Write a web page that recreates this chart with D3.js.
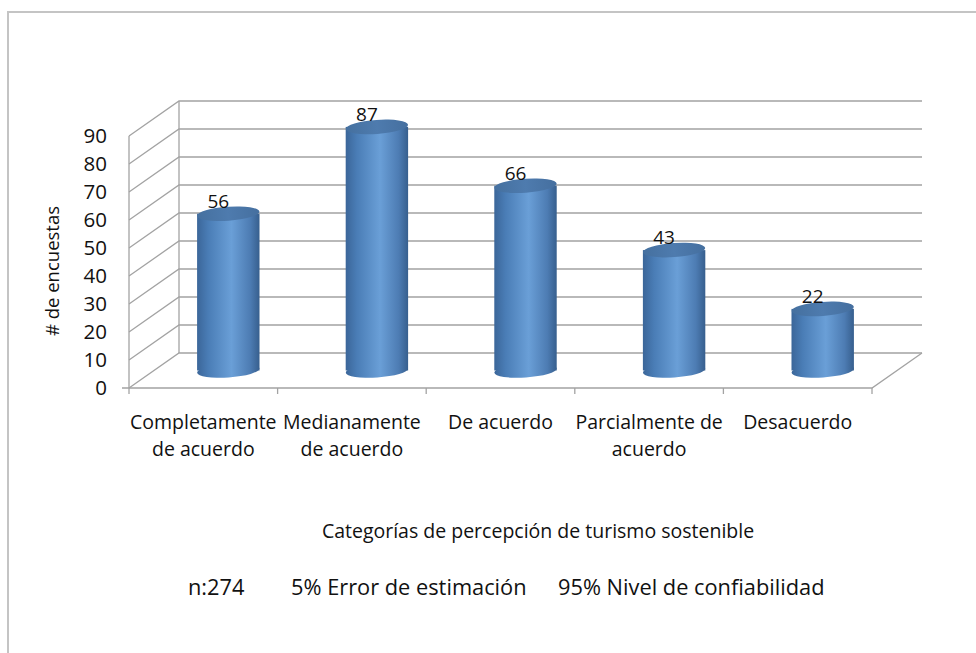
<!DOCTYPE html>
<html>
<head>
<meta charset="utf-8">
<script src="https://cdn.jsdelivr.net/npm/d3@7"></script>
<style>
  body { margin: 0; background: #fff; }
  svg text { font-family: "Open Sans", sans-serif; fill: #111; }
</style>
</head>
<body>
<svg id="chart"></svg>
<script>
// data
var categories = ["Completamente de acuerdo", "Medianamente de acuerdo", "De acuerdo",
                  "Parcialmente de acuerdo", "Desacuerdo"];
var tickLines = [["Completamente", "de acuerdo"], ["Medianamente", "de acuerdo"], ["De acuerdo"],
                 ["Parcialmente de", "acuerdo"], ["Desacuerdo"]];
var encuestas = [56, 87, 66, 43, 22];
var yTicks = [0, 10, 20, 30, 40, 50, 60, 70, 80, 90];

var xTitle = "Categorías de percepción de turismo sostenible";
var yTitle = "# de encuestas";
var notes = ["n:274", "5% Error de estimación", "95% Nivel de confiabilidad"];

var screen = {width: 976, height: 653};
var plot = {left: 129, right: 872, top: 136, bottom: 388};
var depth = {dx: 50, dy: -35};   // 3d offset front -> back wall

var svg = d3.select("#chart")
    .attr("width", screen.width)
    .attr("height", screen.height);

// frame of the chart area
svg.append("path")
    .attr("d", "M8,653 L8,12 L976,12")
    .attr("fill", "none")
    .attr("stroke", "#c4c4c4")
    .attr("stroke-width", 2);

var xScale = d3.scaleBand()
    .domain(categories)
    .range([plot.left, plot.right]);

var yScale = d3.scaleLinear()
    .domain([0, 90])
    .range([plot.bottom, plot.top]);

var grid = svg.append("g")
    .attr("fill", "none")
    .attr("stroke", "#a3a3a3")
    .attr("stroke-width", 1.3);

// side wall diagonals + back wall lines
yTicks.forEach(function(t)
{
    var y = yScale(t);
    grid.append("path")
        .attr("d", "M" + plot.left + "," + y +
              " L" + (plot.left + depth.dx) + "," + (y + depth.dy) +
              " L" + (plot.right + depth.dx) + "," + (y + depth.dy));
});

// back wall left edge and front axis
grid.append("line")
    .attr("x1", plot.left + depth.dx).attr("x2", plot.left + depth.dx)
    .attr("y1", yScale(0) + depth.dy).attr("y2", yScale(90) + depth.dy);
grid.append("line")
    .attr("x1", plot.left).attr("x2", plot.left)
    .attr("y1", yScale(0)).attr("y2", yScale(90));

// floor: front edge and right edge
grid.append("path")
    .attr("d", "M" + (plot.left - 7) + "," + yScale(0) +
          " L" + plot.right + "," + yScale(0) +
          " L" + (plot.right + depth.dx) + "," + (yScale(0) + depth.dy));

// category ticks at band edges
var edges = categories.map(function(c) { return xScale(c); }).concat([plot.right]);
edges.forEach(function(x)
{
    grid.append("line")
        .attr("x1", x).attr("x2", x)
        .attr("y1", yScale(0)).attr("y2", yScale(0) + 6);
});

// y axis labels
var yAxis = d3.axisLeft(yScale).tickValues(yTicks).tickSize(0).tickPadding(22);
var gy = svg.append("g")
    .attr("transform", "translate(" + plot.left + ",0)")
    .call(yAxis);
gy.select(".domain").remove();
gy.selectAll("text")
    .style("font-family", "'Open Sans', sans-serif")
    .style("font-size", "20.5px")
    .attr("fill", "#111");

// x axis labels
var xAxis = d3.axisBottom(xScale).tickSize(0).tickPadding(0).tickFormat("");
var gx = svg.append("g")
    .attr("transform", "translate(0," + yScale(0) + ")")
    .call(xAxis);
gx.select(".domain").remove();
gx.selectAll(".tick").each(function(d, i)
{
    var t = d3.select(this).append("text")
        .attr("text-anchor", "middle")
        .style("font-size", "19.5px")
        .attr("fill", "#111");
    tickLines[i].forEach(function(line, j)
    {
        t.append("tspan")
            .attr("x", 0)
            .attr("y", 41 + j * 27)
            .text(line);
    });
});

// gradients for the cylinders
var defs = svg.append("defs");
var bodyGrad = defs.append("linearGradient").attr("id", "body")
    .attr("x1", "0%").attr("x2", "100%").attr("y1", "0%").attr("y2", "0%");
[[0, "#3b6699"], [0.18, "#4a7db6"], [0.55, "#6a9fd7"], [0.85, "#4d7cb3"], [1, "#375f8e"]]
    .forEach(function(s) { bodyGrad.append("stop").attr("offset", s[0]).attr("stop-color", s[1]); });
var capGrad = defs.append("linearGradient").attr("id", "topcap")
    .attr("x1", "0%").attr("x2", "100%").attr("y1", "0%").attr("y2", "0%");
[[0, "#45709f"], [0.5, "#4e7bae"], [1, "#456f9f"]]
    .forEach(function(s) { capGrad.append("stop").attr("offset", s[0]).attr("stop-color", s[1]); });

var rx = xScale.bandwidth() * 0.21;
var ry = 7;
var tilt = -4;
var midDx = depth.dx / 2, midDy = depth.dy / 2;

var bars = svg.append("g").selectAll("g")
    .data(categories)
    .enter()
    .append("g");

bars.each(function(c, i)
{
    var g = d3.select(this);
    var cx = xScale(c) + xScale.bandwidth() / 2 + midDx;
    var yBase = yScale(0) + midDy;
    var yTop = yScale(encuestas[i]) + midDy;

    g.append("ellipse")
        .attr("cx", cx).attr("cy", yBase)
        .attr("rx", rx).attr("ry", ry)
        .attr("transform", "rotate(" + tilt + "," + cx + "," + yBase + ")")
        .attr("fill", "url(#body)");
    g.append("rect")
        .attr("x", cx - rx).attr("y", yTop)
        .attr("width", rx * 2).attr("height", yBase - yTop)
        .attr("fill", "url(#body)");
    g.append("ellipse")
        .attr("cx", cx).attr("cy", yTop)
        .attr("rx", rx).attr("ry", ry)
        .attr("transform", "rotate(" + tilt + "," + cx + "," + yTop + ")")
        .attr("fill", "url(#topcap)");

    g.append("text")
        .attr("x", cx - 10)
        .attr("y", yTop - 6)
        .attr("text-anchor", "middle")
        .style("font-size", "19px")
        .text(encuestas[i]);
});

// titles
svg.append("text")
    .attr("x", 538).attr("y", 538)
    .attr("text-anchor", "middle")
    .style("font-size", "19.5px")
    .text(xTitle);

svg.append("text")
    .attr("transform", "translate(58.5,271) rotate(-90)")
    .attr("text-anchor", "middle")
    .style("font-size", "18.5px")
    .text(yTitle);

var noteX = [188, 291, 558];
notes.forEach(function(n, i)
{
    svg.append("text")
        .attr("x", noteX[i]).attr("y", 595)
        .style("font-size", "21.8px")
        .text(n);
});
</script>
</body>
</html>
